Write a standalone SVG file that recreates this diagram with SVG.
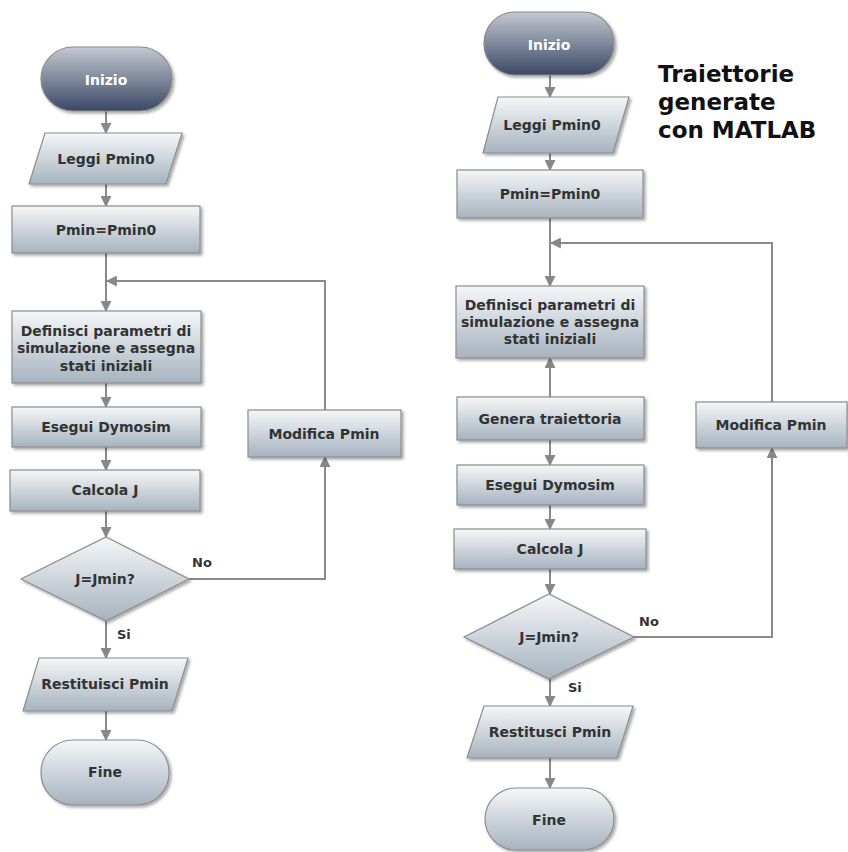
<svg xmlns="http://www.w3.org/2000/svg" width="848" height="852" viewBox="0 0 848 852">
<defs>
<linearGradient id="gNode" x1="0" y1="0" x2="0" y2="1">
<stop offset="0" stop-color="#f5f7f9"/>
<stop offset="1" stop-color="#a6b3bf"/>
</linearGradient>
<linearGradient id="gStart" x1="0" y1="0" x2="0" y2="1">
<stop offset="0" stop-color="#c3c9d1"/>
<stop offset="1" stop-color="#3a4865"/>
</linearGradient>
<filter id="sh" x="-10%" y="-10%" width="130%" height="140%">
<feDropShadow dx="2" dy="2" stdDeviation="1.5" flood-color="#000" flood-opacity="0.35"/>
</filter>
<marker id="ah" viewBox="0 0 10 10" refX="9" refY="5" markerWidth="11" markerHeight="11" markerUnits="userSpaceOnUse" orient="auto">
<path d="M0,0 L10,5 L0,10 Z" fill="#888"/>
</marker>
</defs>
<style>
.n{fill:url(#gNode);stroke:#8c8c8c;stroke-width:1.2;filter:url(#sh)}
.s{fill:url(#gStart);stroke:#8c8c8c;stroke-width:1.2;filter:url(#sh)}
.t{font-family:"DejaVu Sans",Verdana,sans-serif;font-weight:bold;font-size:14px;fill:#333;text-anchor:middle}
.w{fill:#fff}
.c{fill:none;stroke:#8a8a8a;stroke-width:2}
.a{marker-end:url(#ah)}
.lbl{font-family:"DejaVu Sans",Verdana,sans-serif;font-weight:bold;font-size:13px;fill:#333}
.title{font-family:"DejaVu Sans",Verdana,sans-serif;font-weight:bold;font-size:23px;fill:#111}
</style>
<rect width="848" height="852" fill="#fff"/>

<g id="connectors">
<path class="c a" d="M106,111 V133"/>
<path class="c a" d="M106,184 V206"/>
<path class="c a" d="M106,253 V311"/>
<path class="c a" d="M325,410 V281 H107"/>
<path class="c a" d="M106,383 V407"/>
<path class="c a" d="M106,447 V470"/>
<path class="c a" d="M106,511 V537"/>
<path class="c a" d="M189,579 H325 V457"/>
<path class="c a" d="M106,621 V658"/>
<path class="c a" d="M106,711 V740"/>
<path class="c a" d="M550,75 V97"/>
<path class="c a" d="M550,153 V170"/>
<path class="c a" d="M550,218 V286"/>
<path class="c a" d="M772,402 V243 H551"/>
<path class="c a" d="M550,397 V358"/>
<path class="c a" d="M550,440 V465"/>
<path class="c a" d="M550,505 V529"/>
<path class="c a" d="M550,569 V594"/>
<path class="c a" d="M634,637 H772 V448"/>
<path class="c a" d="M550,679 V706"/>
<path class="c a" d="M550,758 V788"/>
<text class="lbl" x="192" y="567">No</text>
<text class="lbl" x="117" y="639">Si</text>
<text class="lbl" x="639" y="626">No</text>
<text class="lbl" x="568" y="692">Si</text>
</g>

<g id="L_inizio"><rect class="s" x="41" y="47" width="131" height="64" rx="32"/><text class="t w" x="106" y="85">Inizio</text></g>
<g id="L_leggi"><polygon class="n" points="45,133 182,133 166,184 29,184"/><text class="t" x="106" y="164">Leggi Pmin0</text></g>
<g id="L_pmin"><rect class="n" x="12" y="206" width="188" height="47"/><text class="t" x="106" y="235">Pmin=Pmin0</text></g>
<g id="L_definisci"><rect class="n" x="12" y="311" width="189" height="72"/>
<text class="t" x="106" y="336">Definisci parametri di</text>
<text class="t" x="106" y="353">simulazione e assegna</text>
<text class="t" x="106" y="371">stati iniziali</text></g>
<g id="L_esegui"><rect class="n" x="12" y="407" width="189" height="40"/><text class="t" x="106" y="432">Esegui Dymosim</text></g>
<g id="L_calcola"><rect class="n" x="10" y="470" width="190" height="41"/><text class="t" x="105" y="495">Calcola J</text></g>
<g id="L_modifica"><rect class="n" x="248" y="410" width="153" height="47"/><text class="t" x="324" y="439">Modifica Pmin</text></g>
<g id="L_decisione"><polygon class="n" points="106,537 189,579 106,621 21,579"/><text class="t" x="105" y="584">J=Jmin?</text></g>
<g id="L_restituisci"><polygon class="n" points="39,658 188,658 172,711 23,711"/><text class="t" x="105" y="689">Restituisci Pmin</text></g>
<g id="L_fine"><rect class="n" x="41" y="740" width="128" height="65" rx="32"/><text class="t" x="105" y="777">Fine</text></g>

<g id="R_inizio"><rect class="s" x="484" y="12" width="130" height="63" rx="31"/><text class="t w" x="549" y="50">Inizio</text></g>
<g id="R_leggi"><polygon class="n" points="498,97 629,97 613,153 483,153"/><text class="t" x="552" y="130">Leggi Pmin0</text></g>
<g id="R_pmin"><rect class="n" x="457" y="170" width="186" height="48"/><text class="t" x="550" y="199">Pmin=Pmin0</text></g>
<g id="R_definisci"><rect class="n" x="456" y="286" width="188" height="72"/>
<text class="t" x="550" y="310">Definisci parametri di</text>
<text class="t" x="550" y="327">simulazione e assegna</text>
<text class="t" x="550" y="344">stati iniziali</text></g>
<g id="R_genera"><rect class="n" x="457" y="397" width="187" height="43"/><text class="t" x="550" y="424">Genera traiettoria</text></g>
<g id="R_esegui"><rect class="n" x="457" y="465" width="187" height="40"/><text class="t" x="550" y="490">Esegui Dymosim</text></g>
<g id="R_calcola"><rect class="n" x="454" y="529" width="192" height="40"/><text class="t" x="550" y="554">Calcola J</text></g>
<g id="R_modifica"><rect class="n" x="696" y="402" width="151" height="46"/><text class="t" x="771" y="430">Modifica Pmin</text></g>
<g id="R_decisione"><polygon class="n" points="549,594 634,637 549,679 464,637"/><text class="t" x="549" y="642">J=Jmin?</text></g>
<g id="R_restitusci"><polygon class="n" points="484,706 633,706 617,758 467,758"/><text class="t" x="550" y="737">Restitusci Pmin</text></g>
<g id="R_fine"><rect class="n" x="485" y="788" width="129" height="62" rx="31"/><text class="t" x="549" y="825">Fine</text></g>

<g id="titolo">
<text class="title" x="658" y="82">Traiettorie</text>
<text class="title" x="658" y="110">generate</text>
<text class="title" x="658" y="138">con MATLAB</text>
</g>
</svg>
